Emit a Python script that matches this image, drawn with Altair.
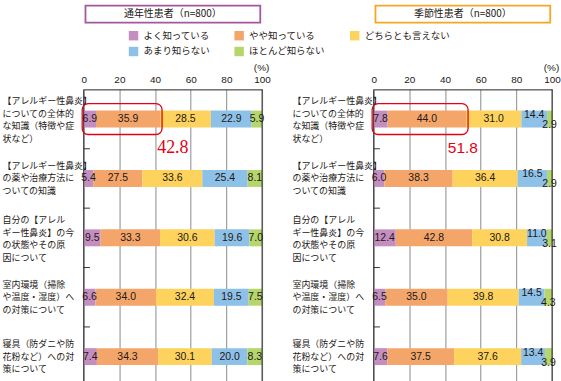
import altair as alt
import pandas as pd

# ---------------- data ----------------
items = [
    "【アレルギー性鼻炎】|についての全体的|な知識（特徴や症|状など）",
    "【アレルギー性鼻炎】|の薬や治療方法に|ついての知識",
    "自分の【アレル|ギー性鼻炎】の今|の状態やその原|因について",
    "室内環境（掃除|や温度・湿度）へ|の対策について",
    "寝具（防ダニや防|花粉など）への対|策について",
]
responses = ["よく知っている", "やや知っている", "どちらとも言えない", "あまり知らない", "ほとんど知らない"]
colors = ["#C48FC0", "#F4A66A", "#FDD35E", "#8EC1E8", "#B5D66B"]

panel_titles = ["通年性患者（n=800）", "季節性患者（n=800）"]
title_colors = ["#A3579E", "#F5A623"]

perennial = [
    [6.9, 35.9, 28.5, 22.9, 5.9],
    [5.4, 27.5, 33.6, 25.4, 8.1],
    [9.5, 33.3, 30.6, 19.6, 7.0],
    [6.6, 34.0, 32.4, 19.5, 7.5],
    [7.4, 34.3, 30.1, 20.0, 8.3],
]
seasonal = [
    [7.8, 44.0, 31.0, 14.4, 2.9],
    [6.0, 38.3, 36.4, 16.5, 2.9],
    [12.4, 42.8, 30.8, 11.0, 3.1],
    [6.5, 35.0, 39.8, 14.5, 4.3],
    [7.6, 37.5, 37.6, 13.4, 3.9],
]
highlight_totals = [42.8, 51.8]
x_ticks = [0, 20, 40, 60, 80, 100]

JP = "Noto Sans CJK JP"
NUM = "Liberation Sans"
TXT = "#231815"
RED = "#E60012"


def make_df(values):
    rows = []
    for item, vals in zip(items, values):
        start = 0.0
        for resp, v in zip(responses, vals):
            rows.append(dict(item=item, response=resp, value=v,
                             start=start, end=start + v, mid=start + v / 2))
            start += v
    return pd.DataFrame(rows)


LH = 12.5
y_axis = alt.Axis(labelExpr="split(datum.label, '|')", labelAlign="left",
                  labelBaseline="middle", labelPadding=82, ticks=False, tickSize=0,
                  labelOffset={"condition": {"test": "length(split(datum.value, '|')) == 4",
                                             "value": -1.5 * LH + 1},
                               "value": -1.0 * LH},
                  domain=False, labelFontSize=9, labelLineHeight=LH, labelFont=JP,
                  labelColor=TXT, labelLimit=300, labelOverlap=False, title=None, grid=False)
y_scale = alt.Scale(domain=items, range=[0, 298], paddingInner=0, paddingOuter=0)

x_scale = alt.Scale(domain=[0, 100], nice=False)
x_axis = alt.Axis(orient="top", values=x_ticks, tickCount=6, grid=True, gridColor="#8c8c8c",
                  gridWidth=1, ticks=False, domain=True, domainColor="#333333",
                  labelFont=NUM, labelFontSize=10, labelPadding=5, labelColor=TXT,
                  labelFlush=False, labelOverlap=False, title="(%)", titleX=178, titleY=-22,
                  titleFontSize=10, titleFontWeight="normal", titleFont=NUM,
                  titleAlign="center", titleBaseline="middle", titleColor=TXT)


def Y(**kw):
    return alt.Y("item:N", sort=items, scale=y_scale, axis=y_axis, **kw)


def X(field):
    return alt.X(field, scale=x_scale, axis=x_axis, title="(%)")


def panel(values, title, tcolor, total, show_legend, shift_small):
    df = make_df(values)
    base = alt.Chart(df)

    if show_legend:
        legend = alt.Legend(orient="none", legendX=45, legendY=-59, direction="horizontal",
                            columns=3, columnPadding=24, rowPadding=6, symbolType="square",
                            symbolSize=90, symbolStrokeWidth=0, labelFontSize=9.5,
                            labelFont=JP, labelColor=TXT, labelOffset=5, title=None,
                            padding=0, labelLimit=300)
    else:
        legend = None

    bars = base.mark_bar(size=17).encode(
        x=X("start:Q"),
        x2="end:Q",
        y=Y(),
        color=alt.Color("response:N", scale=alt.Scale(domain=responses, range=colors),
                        legend=legend),
    )

    frame = alt.Chart(pd.DataFrame({"v": [0, 100]})).mark_rule(
        color="#333333", strokeWidth=1).encode(x=X("v:Q"))

    ticks = alt.Chart(pd.DataFrame({"item": items[1:]})).mark_rule(
        color="#333333", strokeWidth=1).encode(
        y=Y(bandPosition=0), x=alt.datum(0), x2=alt.datum(3.5))

    txt_kw = dict(font=NUM, fontSize=10.5, color=TXT)
    enc = dict(x=X("mid:Q"), y=Y(), text=alt.Text("value:Q", format=".1f"))
    if shift_small:
        texts = (
            base.transform_filter(alt.FieldOneOfPredicate(field="response", oneOf=responses[:3]))
            .mark_text(**txt_kw).encode(**enc)
            + base.transform_filter(alt.FieldEqualPredicate(field="response", equal=responses[3]))
            .mark_text(dy=-4, **txt_kw).encode(**enc)
            + base.transform_filter(alt.FieldEqualPredicate(field="response", equal=responses[4]))
            .mark_text(dy=6, **txt_kw).encode(**enc)
        )
    else:
        texts = base.mark_text(**txt_kw).encode(**enc)

    hdf = pd.DataFrame({"item": [items[0]], "start": [0.0], "total": [total]})
    hbox = alt.Chart(hdf).mark_bar(filled=False, stroke=RED, strokeWidth=1.3,
                                   cornerRadius=6, size=31, xOffset=-1.5, x2Offset=2).encode(
        x=X("start:Q"), x2="total:Q", y=Y())
    htext = alt.Chart(hdf).mark_text(
        font=("Liberation Serif" if not shift_small else NUM),
        fontSize=(18 if not shift_small else 15.5), color=RED, dy=29.5).encode(
        x=alt.datum(50), y=Y(), text=alt.Text("total:Q", format=".1f"))

    tdf = pd.DataFrame({"title": [title]})
    tbox = alt.Chart(tdf).mark_rect(fill="white", stroke=tcolor, strokeWidth=1.8).encode(
        x=alt.datum(1), x2=alt.datum(99), y=alt.value(-84), y2=alt.value(-67))
    ttext = alt.Chart(tdf).mark_text(font=JP, fontSize=10, color=TXT).encode(
        x=alt.datum(50), y=alt.value(-75.5), text="title:N")

    return alt.layer(bars, frame, ticks, texts, hbox, htext, tbox, ttext).properties(
        width=179, height=294)


left = panel(perennial, panel_titles[0], title_colors[0], highlight_totals[0], True, False)
right = panel(seasonal, panel_titles[1], title_colors[1], highlight_totals[1], False, True)

chart = alt.hconcat(left, right, spacing=112, bounds="flush").resolve_legend(
    color="independent").properties(
    padding={"left": 1, "top": 3, "right": 0, "bottom": 0}
).configure_view(stroke=None).configure_axis(labelOverlap=False).configure(background="white")

chart.save("out.html", embed_options={"renderer": "svg", "actions": False})
